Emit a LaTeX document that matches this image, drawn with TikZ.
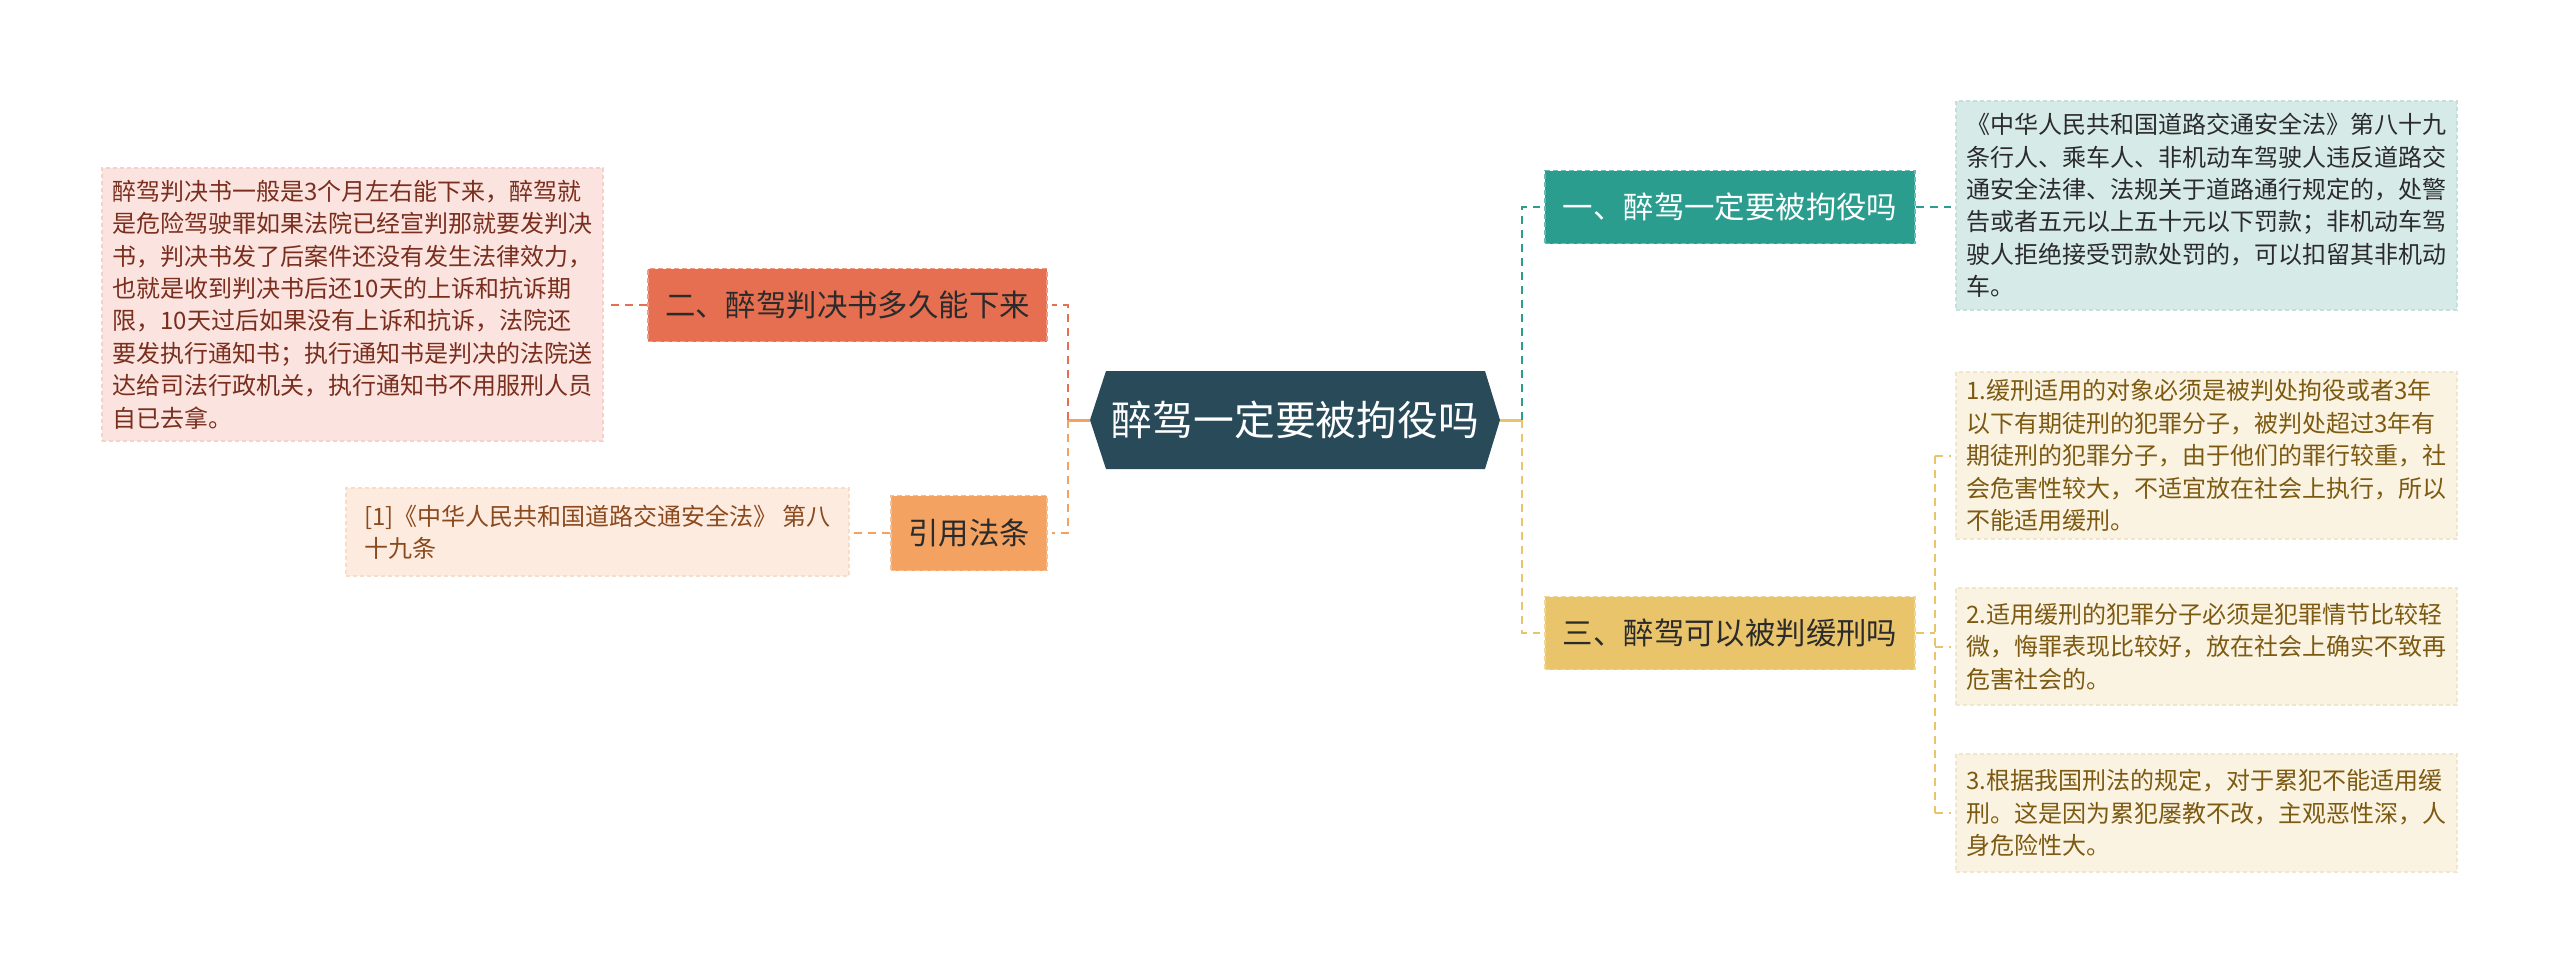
\documentclass[tikz,border=0pt]{standalone}
\usepackage{fontspec}
\setmainfont{Noto Sans CJK SC}
\usetikzlibrary{calc}
\definecolor{rootc}{HTML}{284A59}
\definecolor{redc}{HTML}{E76F51}
\definecolor{redleaf}{HTML}{FBE4DF}
\definecolor{redleafb}{HTML}{F4D2CA}
\definecolor{redtext}{HTML}{7A2E1E}
\definecolor{orc}{HTML}{F4A261}
\definecolor{orleaf}{HTML}{FDEBDF}
\definecolor{orleafb}{HTML}{F8DCC8}
\definecolor{ortext}{HTML}{8A4A1E}
\definecolor{grc}{HTML}{2A9D8F}
\definecolor{grleaf}{HTML}{D6EBE8}
\definecolor{grleafb}{HTML}{C4E0DC}
\definecolor{yec}{HTML}{E9C46A}
\definecolor{yeleaf}{HTML}{FAF3E2}
\definecolor{yeleafb}{HTML}{F0E6CC}
\definecolor{yetext}{HTML}{7D5A12}
\definecolor{darktext}{HTML}{2B2B2B}
\begin{document}
\begin{tikzpicture}[x=0.5pt,y=-0.5pt,
  leafbox/.style={rectangle, align=left, inner sep=0pt, minimum width=250.5pt,
    font=\fontsize{12}{16.2}\selectfont, draw, dash pattern=on 2pt off 1.5pt, line width=0.6pt},
  branchbox/.style={rectangle, inner sep=0pt, minimum height=36.5pt,
    font=\fontsize{15.2}{18}\selectfont, draw, dash pattern=on 2.5pt off 1.5pt, line width=0.6pt},
  conn/.style={dash pattern=on 4pt off 3pt, line width=1pt, shorten >=2pt},
  stub/.style={line width=1.5pt}
]
\useasboundingbox[fill=white] (0,0) rectangle (2560,975);

% root
\fill[rootc] (1106,371) -- (1485,371) -- (1500,420) -- (1485,469) -- (1106,469) -- (1090,420) -- cycle;
\node[rectangle, inner sep=0pt, minimum width=189.5pt, minimum height=49pt,
  font=\fontsize{20.4}{24}\selectfont, text=white] (root) at (1295.5,420) {醉驾一定要被拘役吗};
\coordinate (rootL) at ($(root.west)+(-16,0)$);
\coordinate (rootR) at ($(root.east)+(15,0)$);

% left branches
\node[branchbox, fill=redc, draw=redc!70!white, text=darktext, minimum width=199.5pt] (b2) at (847.5,305) {二、醉驾判决书多久能下来};
\node[leafbox, fill=redleaf, draw=redleafb, text=redtext, minimum height=136.5pt] (l2) at (352.5,304.5) {醉驾判决书一般是3个月左右能下来，醉驾就\\是危险驾驶罪如果法院已经宣判那就要发判决\\书，判决书发了后案件还没有发生法律效力，\\也就是收到判决书后还10天的上诉和抗诉期\\限，10天过后如果没有上诉和抗诉，法院还\\要发执行通知书；执行通知书是判决的法院送\\达给司法行政机关，执行通知书不用服刑人员\\自已去拿。};

\node[branchbox, fill=orc, draw=orc!70!white, text=darktext, minimum width=78pt, minimum height=37.5pt] (bc) at (969,533) {引用法条};
\node[leafbox, fill=orleaf, draw=orleafb, text=ortext, minimum width=251.5pt, minimum height=44pt] (lc) at (597.5,532) {[1]《中华人民共和国道路交通安全法》 第八\\十九条};

% right branches
\node[branchbox, fill=grc, draw=grc!70!white, text=white, minimum width=185pt] (b1) at (1730,207) {一、醉驾一定要被拘役吗};
\node[leafbox, fill=grleaf, draw=grleafb, text=darktext, minimum height=104.5pt] (l1) at (2206.5,205.5) {《中华人民共和国道路交通安全法》第八十九\\条行人、乘车人、非机动车驾驶人违反道路交\\通安全法律、法规关于道路通行规定的，处警\\告或者五元以上五十元以下罚款；非机动车驾\\驶人拒绝接受罚款处罚的，可以扣留其非机动\\车。};

\node[branchbox, fill=yec, draw=yec!70!white, text=darktext, minimum width=185pt] (b3) at (1730,633) {三、醉驾可以被判缓刑吗};
\node[leafbox, fill=yeleaf, draw=yeleafb, text=yetext, minimum height=83.5pt] (l31) at (2206.5,455.5) {1.缓刑适用的对象必须是被判处拘役或者3年\\以下有期徒刑的犯罪分子，被判处超过3年有\\期徒刑的犯罪分子，由于他们的罪行较重，社\\会危害性较大，不适宜放在社会上执行，所以\\不能适用缓刑。};
\node[leafbox, fill=yeleaf, draw=yeleafb, text=yetext, minimum height=58.5pt] (l32) at (2206.5,646.5) {2.适用缓刑的犯罪分子必须是犯罪情节比较轻\\微，悔罪表现比较好，放在社会上确实不致再\\危害社会的。};
\node[leafbox, fill=yeleaf, draw=yeleafb, text=yetext, minimum height=59pt] (l33) at (2206.5,813) {3.根据我国刑法的规定，对于累犯不能适用缓\\刑。这是因为累犯屡教不改，主观恶性深，人\\身危险性大。};

% trunk coordinates
\coordinate (lt) at (1068,420);
\coordinate (rt) at (1522,420);
\coordinate (st) at (1935,633);

% center stubs
\draw[stub, orc] (rootL) -- (lt);
\draw[stub, yec] (rootR) -- (rt);

% left connectors
\draw[conn, redc] (lt) -- (lt |- b2.east) -- (b2.east);
\draw[conn, orc] (lt) -- (lt |- bc.east) -- (bc.east);
\draw[conn, redc] (b2.west) -- (l2.east |- b2.west);
\draw[conn, orc] (bc.west) -- (lc.east |- bc.west);

% right connectors
\draw[conn, grc] (rt) -- (rt |- b1.west) -- (b1.west);
\draw[conn, yec] (rt) -- (rt |- b3.west) -- (b3.west);
\draw[conn, grc] (b1.east) -- (l1.west |- b1.east);
\draw[conn, yec, shorten >=0pt] (b3.east) -- (st);
\draw[conn, yec, shorten >=0pt] (st |- l31.west) -- (st |- l33.west);
\draw[conn, yec] (st |- l31.west) -- (l31.west);
\draw[conn, yec] (st |- l32.west) -- (l32.west);
\draw[conn, yec] (st |- l33.west) -- (l33.west);
\end{tikzpicture}
\end{document}
